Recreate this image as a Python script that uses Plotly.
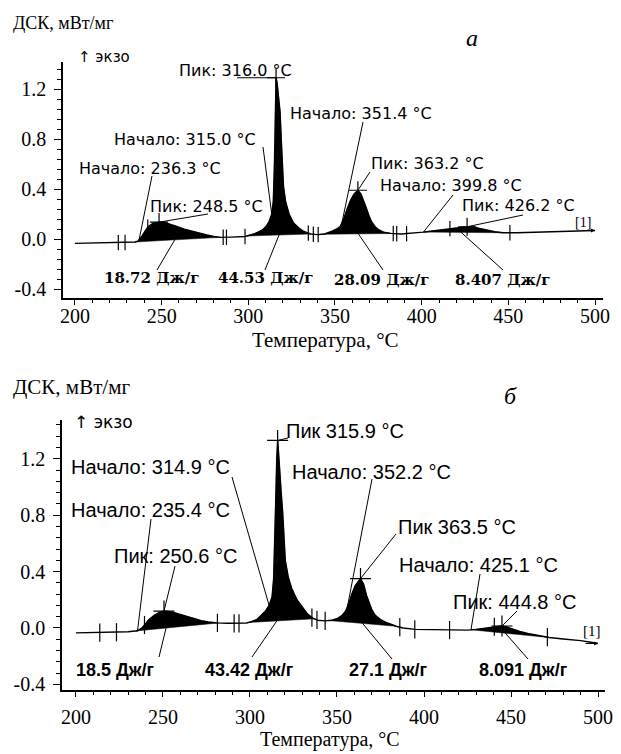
import numpy as np
import plotly.graph_objects as go

W, H = 621, 754

# ---------------- panel a data ----------------
temp_a = [200, 210, 220, 228, 232, 234.6, 236.3, 238.5, 240.5, 242.3,
          245, 248.5, 252, 255, 258.7, 263, 268.3, 272, 276, 280,
          284, 290, 298, 303.5, 306, 308, 310.2, 312, 313.5, 314.4,
          315, 315.4, 315.7, 316, 316.6, 317.5, 318.3, 319, 319.5, 320.3,
          321.5, 323.5, 326, 329, 332, 336, 340, 344, 348, 351,
          353, 355, 357, 359, 361, 363.2, 365, 366.5, 368, 369.5,
          371, 373, 375, 378, 382, 388, 395, 401, 405, 410,
          415, 420, 426.2, 430, 434, 438, 442, 447, 455, 465,
          475, 485, 492, 500]
dsc_a = [-0.035, -0.033, -0.031, -0.028, -0.026, -0.024, -0.018, 0.02, 0.065, 0.1,
         0.125, 0.135, 0.13, 0.118, 0.1, 0.078, 0.058, 0.043, 0.032, 0.02,
         0.013, 0.015, 0.02, 0.04, 0.055, 0.07, 0.1, 0.14, 0.2, 0.3,
         0.55, 0.78, 1.05, 1.29, 1.25, 1.15, 1.02, 0.8, 0.6, 0.42,
         0.3, 0.2, 0.13, 0.09, 0.06, 0.04, 0.035, 0.04, 0.06, 0.08,
         0.1, 0.16, 0.24, 0.31, 0.36, 0.39, 0.36, 0.31, 0.25, 0.19,
         0.14, 0.1, 0.075, 0.055, 0.045, 0.04, 0.045, 0.055, 0.062, 0.07,
         0.08, 0.09, 0.098, 0.095, 0.085, 0.07, 0.058, 0.05, 0.05, 0.053,
         0.056, 0.06, 0.063, 0.068]
peaks_a = [248.5, 316.0, 363.2, 426.2]
onsets_a = [236.3, 315.0, 351.4, 399.8]
heats_a = [18.72, 44.53, 28.09, 8.407]
limits_a = [(234.6, 284.0), (299.0, 336.0), (342.0, 383.0), (401.0, 447.0)]
marks_a = [225, 228.9, 242, 285.5, 287.4, 298.1, 334.6, 337.5, 340.3,
           383.6, 385.6, 391.3, 416.3, 450.9]

# ---------------- panel b data ----------------
temp_b = [200, 210, 216, 224, 230, 235.4, 238, 240, 242, 245,
          248, 250.6, 253, 256, 260, 264, 268, 272, 276, 281,
          287, 294, 298, 301, 304, 306.5, 308.9, 311, 312.7, 313.6,
          314.3, 314.8, 315.4, 315.9, 316.4, 317, 318, 318.8, 319.6, 320.3,
          322, 324, 327, 330, 333, 336, 339, 343, 347, 350,
          353, 355, 357, 358.5, 360.5, 363.5, 365.3, 367, 368.5, 370,
          372, 375, 379, 384, 388, 395, 405, 415, 425.1, 430,
          435, 440, 444.8, 448, 451, 455, 460, 466, 472, 480,
          486, 490, 495, 500]
dsc_b = [-0.035, -0.033, -0.032, -0.03, -0.027, -0.02, 0.0, 0.03, 0.06, 0.09,
         0.11, 0.12, 0.118, 0.11, 0.095, 0.08, 0.065, 0.052, 0.043, 0.036,
         0.033, 0.033, 0.035, 0.045, 0.06, 0.09, 0.12, 0.16, 0.22, 0.35,
         0.6, 0.9, 1.2, 1.33, 1.25, 1.1, 0.95, 0.82, 0.6, 0.48,
         0.36, 0.28, 0.2, 0.15, 0.1, 0.07, 0.055, 0.05, 0.055, 0.065,
         0.09, 0.12, 0.18, 0.24, 0.3, 0.35, 0.31, 0.23, 0.18, 0.13,
         0.09, 0.06, 0.035, 0.012, 0.0, -0.01, -0.012, -0.015, -0.015, -0.01,
         -0.003, 0.008, 0.014, 0.005, -0.01, -0.025, -0.04, -0.055, -0.068, -0.078,
         -0.083, -0.09, -0.1, -0.11]
peaks_b = [250.6, 315.9, 363.5, 444.8]
onsets_b = [235.4, 314.9, 352.2, 425.1]
heats_b = [18.5, 43.42, 27.1, 8.091]
limits_b = [(234.5, 282.0), (299.0, 337.0), (345.0, 384.0), (427.0, 472.0)]
marks_b = [213.7, 223.3, 239.4, 281.3, 290.9, 293.7, 335.6, 338.5, 343.2,
           386.1, 394.7, 414.7, 440.4, 470.9]
peak_prefix_b = ["Пик:", "Пик", "Пик", "Пик:"]

y_ticks = [-0.4, 0.0, 0.4, 0.8, 1.2]
x_ticks = [200, 250, 300, 350, 400, 450, 500]

# ---------------- layout geometry (pixels) ----------------
P = {
    'a': dict(xd=(63, 603), yd=(62, 298), xr=(193.1, 504.6), yr=(-0.472, 1.416),
              xa='x', ya='y', xstand=-6, xfs=20),
    'b': dict(xd=(62, 605), yd=(420, 690), xr=(192.0, 504.0), yr=(-0.44, 1.475),
              xa='x2', ya='y2', xstand=3, xfs=20),
}


def px2d(p, px, py):
    g = P[p]
    t = g['xr'][0] + (px - g['xd'][0]) / (g['xd'][1] - g['xd'][0]) * (g['xr'][1] - g['xr'][0])
    v = g['yr'][1] - (py - g['yd'][0]) / (g['yd'][1] - g['yd'][0]) * (g['yr'][1] - g['yr'][0])
    return t, v


def d2py(p, v):
    g = P[p]
    return g['yd'][0] + (g['yr'][1] - v) / (g['yr'][1] - g['yr'][0]) * (g['yd'][1] - g['yd'][0])


fig = go.Figure()
annotations = []


def add_panel(p, T, V, limits, marks, peaks, mark_size):
    g = P[p]
    T = np.array(T, float)
    V = np.array(V, float)
    for a, b in limits:
        inner = T[(T > a) & (T < b)]
        ts = np.concatenate([[a], inner, [b]])
        vs = np.interp(ts, T, V)
        px_ = list(ts) + [b, a]
        py_ = list(vs) + [vs[-1], vs[0]]
        fig.add_trace(go.Scatter(x=px_, y=py_, fill='toself', fillcolor='black',
                                 line=dict(width=0.5, color='black'), mode='lines',
                                 xaxis=g['xa'], yaxis=g['ya'], hoverinfo='skip'))
    fig.add_trace(go.Scatter(x=T, y=V, mode='lines', line=dict(color='black', width=1.4),
                             xaxis=g['xa'], yaxis=g['ya']))
    fig.add_trace(go.Scatter(x=marks, y=np.interp(marks, T, V), mode='markers',
                             marker=dict(symbol='line-ns', size=mark_size,
                                         line=dict(color='black', width=1.2)),
                             xaxis=g['xa'], yaxis=g['ya']))
    fig.add_trace(go.Scatter(x=peaks, y=np.interp(peaks, T, V), mode='markers',
                             marker=dict(symbol='cross-thin', size=mark_size + 2,
                                         line=dict(color='black', width=1.2)),
                             xaxis=g['xa'], yaxis=g['ya']))


add_panel('a', temp_a, dsc_a, limits_a, marks_a, peaks_a, 11)
add_panel('b', temp_b, dsc_b, limits_b, marks_b, peaks_b, 13)


def base_val(T, V, limits, t):
    for a, b in limits:
        if a <= t <= b:
            va, vb = np.interp([a, b], T, V)
            return va + (vb - va) * (t - a) / (b - a) + 0.01
    return float(np.interp(t, T, V))


def label(p, text, cx, cy, font, leader=None):
    g = P[p]
    x, y = px2d(p, cx, cy)
    annotations.append(dict(x=x, y=y, xref=g['xa'], yref=g['ya'], text=text,
                            showarrow=False, font=font, xanchor='center', yanchor='middle'))
    if leader is not None:
        (lx, ly), (tt, tv) = leader
        sx, sy = px2d(p, lx, ly)
        fig.add_trace(go.Scatter(x=[sx, tt], y=[sy, tv], mode='lines',
                                 line=dict(color='black', width=1),
                                 xaxis=g['xa'], yaxis=g['ya'], hoverinfo='skip'))


fa = dict(family='DejaVu Sans', size=16, color='black')
fa_b = dict(family='DejaVu Serif', size=15, color='black', weight='bold')
fb = dict(family='Liberation Sans', size=20, color='black')
fb_b = dict(family='Liberation Sans', size=18, color='black', weight='bold')

Ta, Va = np.array(temp_a), np.array(dsc_a)
Tb, Vb = np.array(temp_b), np.array(dsc_b)
ca = lambda t: float(np.interp(t, Ta, Va))
cb = lambda t: float(np.interp(t, Tb, Vb))

# ---- panel a labels ----
on_a_pos = [((150, 168), (152, 176), 237.0), ((185, 139), (263, 147), 313.5),
            ((361, 113), (363, 122), 354.0), ((451, 185), (453, 195), 401.0)]
for o, (c, l, t) in zip(onsets_a, on_a_pos):
    label('a', f"Начало: {o:.1f} °C", c[0], c[1], fa, (l, (t, ca(t))))
pk_a_pos = [((206, 206), (208, 214)), ((235, 70), (237, None)),
            ((427, 163), (370, 172)), ((518, 205), (523, 215))]
for pk, (c, l) in zip(peaks_a, pk_a_pos):
    ly = l[1] if l[1] is not None else d2py('a', ca(pk))
    label('a', f"Пик: {pk:.1f} °C", c[0], c[1], fa, ((l[0], ly), (pk, ca(pk))))
ht_a_pos = [((151, 278), (157, 270), 258.0), ((265, 278), (265, 270), 318.0),
            ((381, 280), (383, 270), 363.0), ((502, 280), (503, 270), 422.0)]
for h, (c, l, t) in zip(heats_a, ht_a_pos):
    label('a', f"{h} Дж/г", c[0], c[1], fa_b, (l, (t, base_val(Ta, Va, limits_a, t))))
label('a', "[1]", 583, 222, dict(family='Liberation Serif', size=14, color='black'))

# ---- panel b labels ----
on_b_pos = [((150, 510), (151, 519), 235.4), ((150, 467), (232, 477), 311.0),
            ((371, 472), (372, 479), 356.0), ((478, 565), (480, 574), 427.0)]
for o, (c, l, t) in zip(onsets_b, on_b_pos):
    label('b', f"Начало: {o:.1f} °C", c[0], c[1], fb, (l, (t, cb(t))))
pk_b_pos = [((175, 556), (175, 566)), ((345, 431), (288, 438)),
            ((457, 527), (396, 534)), ((514, 602), (517, 611))]
for pre, pk, (c, l) in zip(peak_prefix_b, peaks_b, pk_b_pos):
    label('b', f"{pre} {pk:.1f} °C", c[0], c[1], fb, (l, (pk, cb(pk))))
ht_b_pos = [((115, 670), (159, 657), 252.0), ((249, 670), (252, 657), 316.0),
            ((388, 670), (392, 659), 364.0), ((523, 670), (528, 659), 446.0)]
for h, (c, l, t) in zip(heats_b, ht_b_pos):
    label('b', f"{h} Дж/г", c[0], c[1], fb_b, (l, (t, base_val(Tb, Vb, limits_b, t))))
label('b', "[1]", 592, 631, dict(family='Liberation Serif', size=15, color='black'))

# curve-end arrows
for p, T, V in (('a', Ta, Va), ('b', Tb, Vb)):
    g = P[p]
    annotations.append(dict(x=T[-1], y=V[-1], xref=g['xa'], yref=g['ya'], ax=-14, ay=0,
                            showarrow=True, arrowhead=2, arrowsize=0.8, arrowwidth=1,
                            arrowcolor='black', text=''))


def ptext(text, px, py, font, xanchor='center'):
    annotations.append(dict(x=px / W, y=1 - py / H, xref='paper', yref='paper', text=text,
                            showarrow=False, font=font, xanchor=xanchor, yanchor='middle'))


serif = 'Liberation Serif'
ptext("ДСК, мВт/мг", 11, 23, dict(family=serif, size=18, color='black'), 'left')
ptext("↑ экзо", 76, 57, dict(family='DejaVu Sans', size=15, color='black'), 'left')
ptext("<i>а</i>", 472, 38, dict(family=serif, size=24, color='black'))
ptext("Температура, °C", 325, 340, dict(family=serif, size=21, color='black'))

ptext("ДСК, мВт/мг", 11, 387, dict(family=serif, size=21, color='black'), 'left')
ptext("↑ экзо", 72, 422, dict(family='DejaVu Sans', size=17, color='black'), 'left')
ptext("<i>б</i>", 510, 396, dict(family=serif, size=24, color='black'))
ptext("Температура, °C", 330, 739, dict(family=serif, size=20, color='black'))


def xax(p):
    g = P[p]
    return dict(domain=[g['xd'][0] / W, g['xd'][1] / W], range=list(g['xr']),
                anchor=g['ya'], showline=True, linecolor='black', linewidth=1.5,
                ticks='outside', ticklen=5, tickwidth=1, tickcolor='black',
                tickvals=x_ticks, ticktext=[str(v) for v in x_ticks],
                tickfont=dict(family=serif, size=g['xfs'], color='black'),
                ticklabelstandoff=g['xstand'],
                minor=dict(ticks='outside', ticklen=3, tickcolor='black', tick0=200, dtick=10),
                showgrid=False, zeroline=False, automargin=False, fixedrange=True)


def yax(p):
    g = P[p]
    return dict(domain=[1 - g['yd'][1] / H, 1 - g['yd'][0] / H], range=list(g['yr']),
                anchor=g['xa'], showline=True, linecolor='black', linewidth=1.5,
                ticks='outside', ticklen=7, tickwidth=1, tickcolor='black',
                tickvals=y_ticks, ticktext=[f"{v:.1f}" for v in y_ticks],
                tickfont=dict(family=serif, size=20, color='black'),
                ticklabelstandoff=4,
                minor=dict(ticks='outside', ticklen=4, tickcolor='black', tick0=-0.4, dtick=0.08),
                showgrid=False, zeroline=False, automargin=False, fixedrange=True)


fig.update_layout(
    width=W, height=H, autosize=False,
    margin=dict(l=0, r=0, t=0, b=0),
    paper_bgcolor='white', plot_bgcolor='white',
    showlegend=False,
    xaxis=xax('a'), yaxis=yax('a'), xaxis2=xax('b'), yaxis2=yax('b'),
    annotations=annotations,
)

fig.write_html("out.html", config={'displayModeBar': False},
               post_script="document.body.style.margin='0';document.body.style.overflow='hidden';")
